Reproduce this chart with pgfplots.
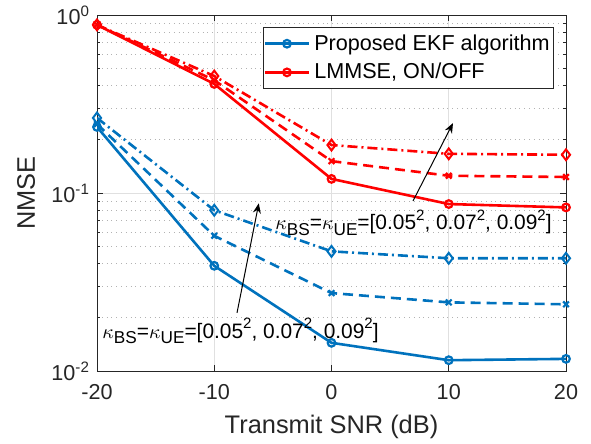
\documentclass[border=0pt]{standalone}
\usepackage{fontspec}
\setmainfont{Liberation Sans}
\usepackage{pgfplots}
\usepackage{pgfplotstable}
\pgfplotsset{compat=1.18}
\usetikzlibrary{arrows.meta}

\definecolor{mblue}{RGB}{0,114,189}
\definecolor{mred}{RGB}{255,0,0}
\definecolor{axgray}{RGB}{38,38,38}

% NMSE vs transmit SNR
\pgfplotstableread{
snr  ekf1    ekf2    ekf3   lm1    lm2    lm3
-20  0.235   0.244   0.264  0.88   0.88   0.88
-10  0.039   0.0575  0.080  0.41   0.43   0.454
0    0.0144  0.0274  0.047  0.120  0.151  0.186
10   0.0115  0.0243  0.043  0.0867 0.125  0.166
20   0.0117  0.0237  0.043  0.083  0.123  0.164
}\nmse

\newcommand{\kap}[1]{$\kappa$\raisebox{-0.5ex}{\fontsize{8.6}{9}\selectfont #1}}
\newcommand{\sq}{\raisebox{0.85ex}{\fontsize{7.5}{8}\selectfont 2}}
\newcommand{\kaptext}{\kap{BS}=\kap{UE}=[0.05\sq, 0.07\sq, 0.09\sq]}

\begin{document}
\begin{tikzpicture}
\begin{axis}[
  scale only axis, width=234.5pt, height=178pt,
  ymode=log, xmin=-20, xmax=20, ymin=0.01, ymax=1,
  xtick={-20,-10,0,10,20}, xticklabels={-20,-10,0,10,20},
  ytick={0.01,0.1,1},
  yticklabels={10\textsuperscript{-2},10\textsuperscript{-1},10\textsuperscript{0}},
  tick label style={font=\fontsize{10.8}{12}\selectfont, text=axgray},
  xticklabel style={yshift=-3pt},
  label style={font=\fontsize{12.7}{14}\selectfont, text=axgray},
  xlabel={Transmit SNR (dB)}, ylabel={NMSE},
  xlabel style={at={(axis description cs:0.5,-0.157)}, anchor=center},
  ylabel style={at={(axis description cs:-0.151,0.5)}, anchor=center},
  axis line style={axgray, line width=0.5pt},
  tick style={axgray, line width=0.5pt},
  tick align=inside, major tick length=3pt, minor tick length=1.5pt,
  xmajorgrids, ymajorgrids, yminorgrids,
  major grid style={black!12, line width=0.5pt},
  minor grid style={black!30, dotted, line width=0.4pt},
  legend style={at={(0.9744,0.9663)}, anchor=north east,
    draw=axgray, fill=white,
    font=\fontsize{10.8}{12}\selectfont, inner xsep=0pt, inner ysep=1.5pt,
    row sep=1pt},
  legend cell align=left,
  legend image code/.code={\draw[mark repeat=2,mark phase=2]
    plot coordinates {(0pt,0pt)(11pt,0pt)(22pt,0pt)};},
  every axis plot/.append style={line width=1.3pt},
]
\addplot[mblue, mark=o, mark size=1.9pt, mark options={solid, line width=1.1pt}] table[x=snr,y=ekf1] {\nmse};
\addlegendentry{Proposed EKF algorithm}
\addplot[mred, mark=o, mark size=1.9pt, mark options={solid, line width=1.1pt}] table[x=snr,y=lm1] {\nmse};
\addlegendentry{LMMSE, ON/OFF}

\addplot[mblue, dash pattern=on 5pt off 3pt, mark=x, mark size=2pt, mark options={solid, line width=1.1pt}, forget plot] table[x=snr,y=ekf2] {\nmse};
\addplot[mblue, dash pattern=on 5pt off 2pt on 1pt off 2pt, mark=diamond, mark size=2.7pt, mark options={solid, line width=1pt}, forget plot] table[x=snr,y=ekf3] {\nmse};
\addplot[mred, dash pattern=on 5pt off 3pt, mark=x, mark size=2pt, mark options={solid, line width=1.1pt}, forget plot] table[x=snr,y=lm2] {\nmse};
\addplot[mred, dash pattern=on 5pt off 2pt on 1pt off 2pt, mark=diamond, mark size=2.7pt, mark options={solid, line width=1pt}, forget plot] table[x=snr,y=lm3] {\nmse};

\draw[black, line width=0.5pt, -{Stealth[length=5pt,width=4pt]}]
  (axis cs:-8.06,0.0212) -- (axis cs:-6.2,0.0875);
\draw[black, line width=0.5pt, -{Stealth[length=5pt,width=4pt]}]
  (axis cs:6.95,0.0902) -- (axis cs:10.36,0.247);
\node[anchor=base west, inner sep=0pt, font=\fontsize{10.45}{12}\selectfont]
  at (axis cs:-19.57,0.01532) {\kaptext};
\node[anchor=base west, inner sep=0pt, font=\fontsize{10.45}{12}\selectfont]
  at (axis cs:-4.82,0.0620) {\kaptext};
\end{axis}
\pgfresetboundingbox
\path[use as bounding box] ([shift={(-48.5pt,-36pt)}]current axis.south west)
  rectangle ([shift={(12.5pt,7.5pt)}]current axis.north east);
\end{tikzpicture}
\end{document}
